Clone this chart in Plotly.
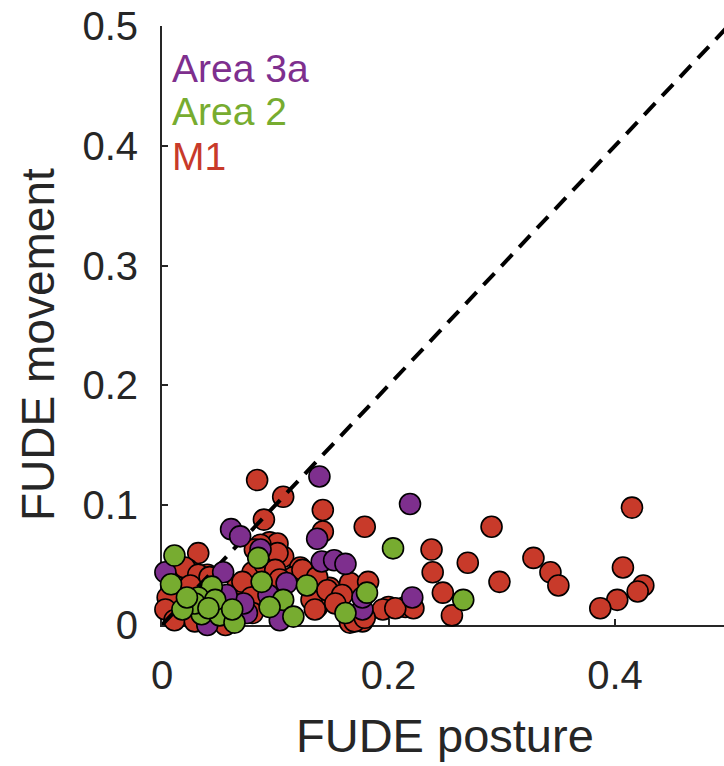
import plotly.graph_objects as go

# ---- data ----
m1_x = [0.084, 0.107, 0.142, 0.179, 0.090, 0.095, 0.142, 0.032, 0.023, 0.040,
        0.006, 0.067, 0.080, 0.091, 0.107, 0.102, 0.122, 0.133, 0.137, 0.148,
        0.157, 0.166, 0.182, 0.166, 0.177, 0.200, 0.195, 0.215, 0.222, 0.238,
        0.239, 0.248, 0.256, 0.270, 0.291, 0.298, 0.328, 0.343, 0.350, 0.415,
        0.407, 0.425, 0.420, 0.402, 0.387, 0.020, 0.032, 0.042, 0.005, 0.003,
        0.011, 0.067, 0.087, 0.102, 0.100, 0.071, 0.094, 0.116, 0.124, 0.137,
        0.132, 0.135, 0.079, 0.080, 0.146, 0.159, 0.153, 0.170, 0.179, 0.206,
        0.036, 0.025, 0.029, 0.056, 0.104, 0.082]
m1_y = [0.121, 0.107, 0.096, 0.082, 0.088, 0.069, 0.078, 0.060, 0.046, 0.042,
        0.018, 0.033, 0.044, 0.050, 0.057, 0.068, 0.048, 0.027, 0.015, 0.031,
        0.023, 0.035, 0.036, 0.002, 0.003, 0.015, 0.013, 0.015, 0.014, 0.063,
        0.044, 0.027, 0.008, 0.052, 0.082, 0.036, 0.056, 0.044, 0.033, 0.098,
        0.048, 0.033, 0.028, 0.021, 0.014, 0.048, 0.042, 0.040, 0.023, 0.013,
        0.004, 0.017, 0.067, 0.060, 0.046, 0.036, 0.029, 0.040, 0.046, 0.040,
        0.021, 0.013, 0.023, 0.010, 0.029, 0.025, 0.018, 0.003, 0.006, 0.014,
        0.027, 0.033, 0.003, 0.000, 0.038, 0.063]

a3a_x = [0.219, 0.139, 0.061, 0.069, 0.137, 0.141, 0.152, 0.162, 0.003, 0.054,
         0.075, 0.072, 0.087, 0.110, 0.104, 0.177, 0.221, 0.057, 0.040, 0.094,
         0.177]
a3a_y = [0.101, 0.124, 0.080, 0.074, 0.072, 0.053, 0.054, 0.051, 0.044, 0.044,
         0.010, 0.018, 0.063, 0.035, 0.004, 0.013, 0.023, 0.025, 0.000, 0.025,
         0.023]

a2_x = [0.204, 0.266, 0.181, 0.162, 0.011, 0.008, 0.044, 0.032, 0.035, 0.051,
        0.022, 0.064, 0.085, 0.088, 0.128, 0.107, 0.095, 0.116, 0.029, 0.047,
        0.062, 0.041, 0.018, 0.022]
a2_y = [0.064, 0.021, 0.027, 0.010, 0.058, 0.034, 0.032, 0.023, 0.009, 0.008,
        0.017, 0.002, 0.056, 0.036, 0.033, 0.021, 0.015, 0.007, 0.018, 0.021,
        0.013, 0.014, 0.013, 0.023]

unity_x = [0, 0.5]
unity_y = [0, 0.5]

x_ticks = [0, 0.2, 0.4]
x_ticktext = ["0", "0.2", "0.4"]
y_ticks = [0, 0.1, 0.2, 0.3, 0.4, 0.5]
y_ticktext = ["0", "0.1", "0.2", "0.3", "0.4", "0.5"]

names = ["Area 3a", "Area 2", "M1"]
colors = {"Area 3a": "#7E2F8E", "Area 2": "#77AC30", "M1": "#C83A2A"}

FONT = "Liberation Sans, Arial, Helvetica, sans-serif"
TXT = "#262626"

fig = go.Figure()

def marker(c):
    return dict(size=21, color=c, line=dict(color="black", width=1.6))

fig.add_trace(go.Scatter(x=m1_x, y=m1_y, mode="markers", marker=marker(colors["M1"]),
                         cliponaxis=False, showlegend=False))
fig.add_trace(go.Scatter(x=unity_x, y=unity_y, mode="lines",
                         line=dict(color="black", width=4, dash="16px,10px"),
                         showlegend=False))
fig.add_trace(go.Scatter(x=a3a_x, y=a3a_y, mode="markers", marker=marker(colors["Area 3a"]),
                         cliponaxis=False, showlegend=False))
fig.add_trace(go.Scatter(x=a2_x, y=a2_y, mode="markers", marker=marker(colors["Area 2"]),
                         cliponaxis=False, showlegend=False))

W, H = 724, 766
L, R, T, B = 162, 0, 26, 141
plot_w = W - L - R
plot_h = H - T - B
px_per_unit_x = 1132.5
x_max = plot_w / px_per_unit_x

def px_to_paper(px, py):
    return (px - L) / plot_w, (H - B - py) / plot_h

axis_common = dict(
    showline=True, linecolor=TXT, linewidth=2, ticks="inside", ticklen=6,
    tickwidth=1.5, tickcolor=TXT, showgrid=False, zeroline=False,
    tickfont=dict(family=FONT, size=40, color=TXT), layer="below traces",
)

fig.update_layout(
    width=W, height=H, margin=dict(l=L, r=R, t=T, b=B),
    paper_bgcolor="white", plot_bgcolor="white",
    xaxis=dict(range=[0, x_max], tickvals=x_ticks, ticktext=x_ticktext,
               ticklabelstandoff=14, **axis_common),
    yaxis=dict(range=[0, 0.5], tickvals=y_ticks, ticktext=y_ticktext,
               ticklabelstandoff=14, **axis_common),
    showlegend=False,
)

# legend as coloured text
leg_y = [68, 112, 156]
for name, py in zip(names, leg_y):
    xp, yp = px_to_paper(171, py)
    fig.add_annotation(x=xp, y=yp, xref="paper", yref="paper", text=name,
                       showarrow=False, xanchor="left", yanchor="middle",
                       borderpad=0,
                       font=dict(family=FONT, size=39, color=colors[name]))

# axis titles
xp, yp = px_to_paper(445, 735)
fig.add_annotation(x=xp, y=yp, xref="paper", yref="paper", text="FUDE posture",
                   showarrow=False, xanchor="center", yanchor="middle",
                   font=dict(family=FONT, size=47, color=TXT))
xp, yp = px_to_paper(38, 345)
fig.add_annotation(x=xp, y=yp, xref="paper", yref="paper", text="FUDE movement",
                   showarrow=False, xanchor="center", yanchor="middle", textangle=-90,
                   font=dict(family=FONT, size=46, color=TXT))

fig.write_html("out.html")
